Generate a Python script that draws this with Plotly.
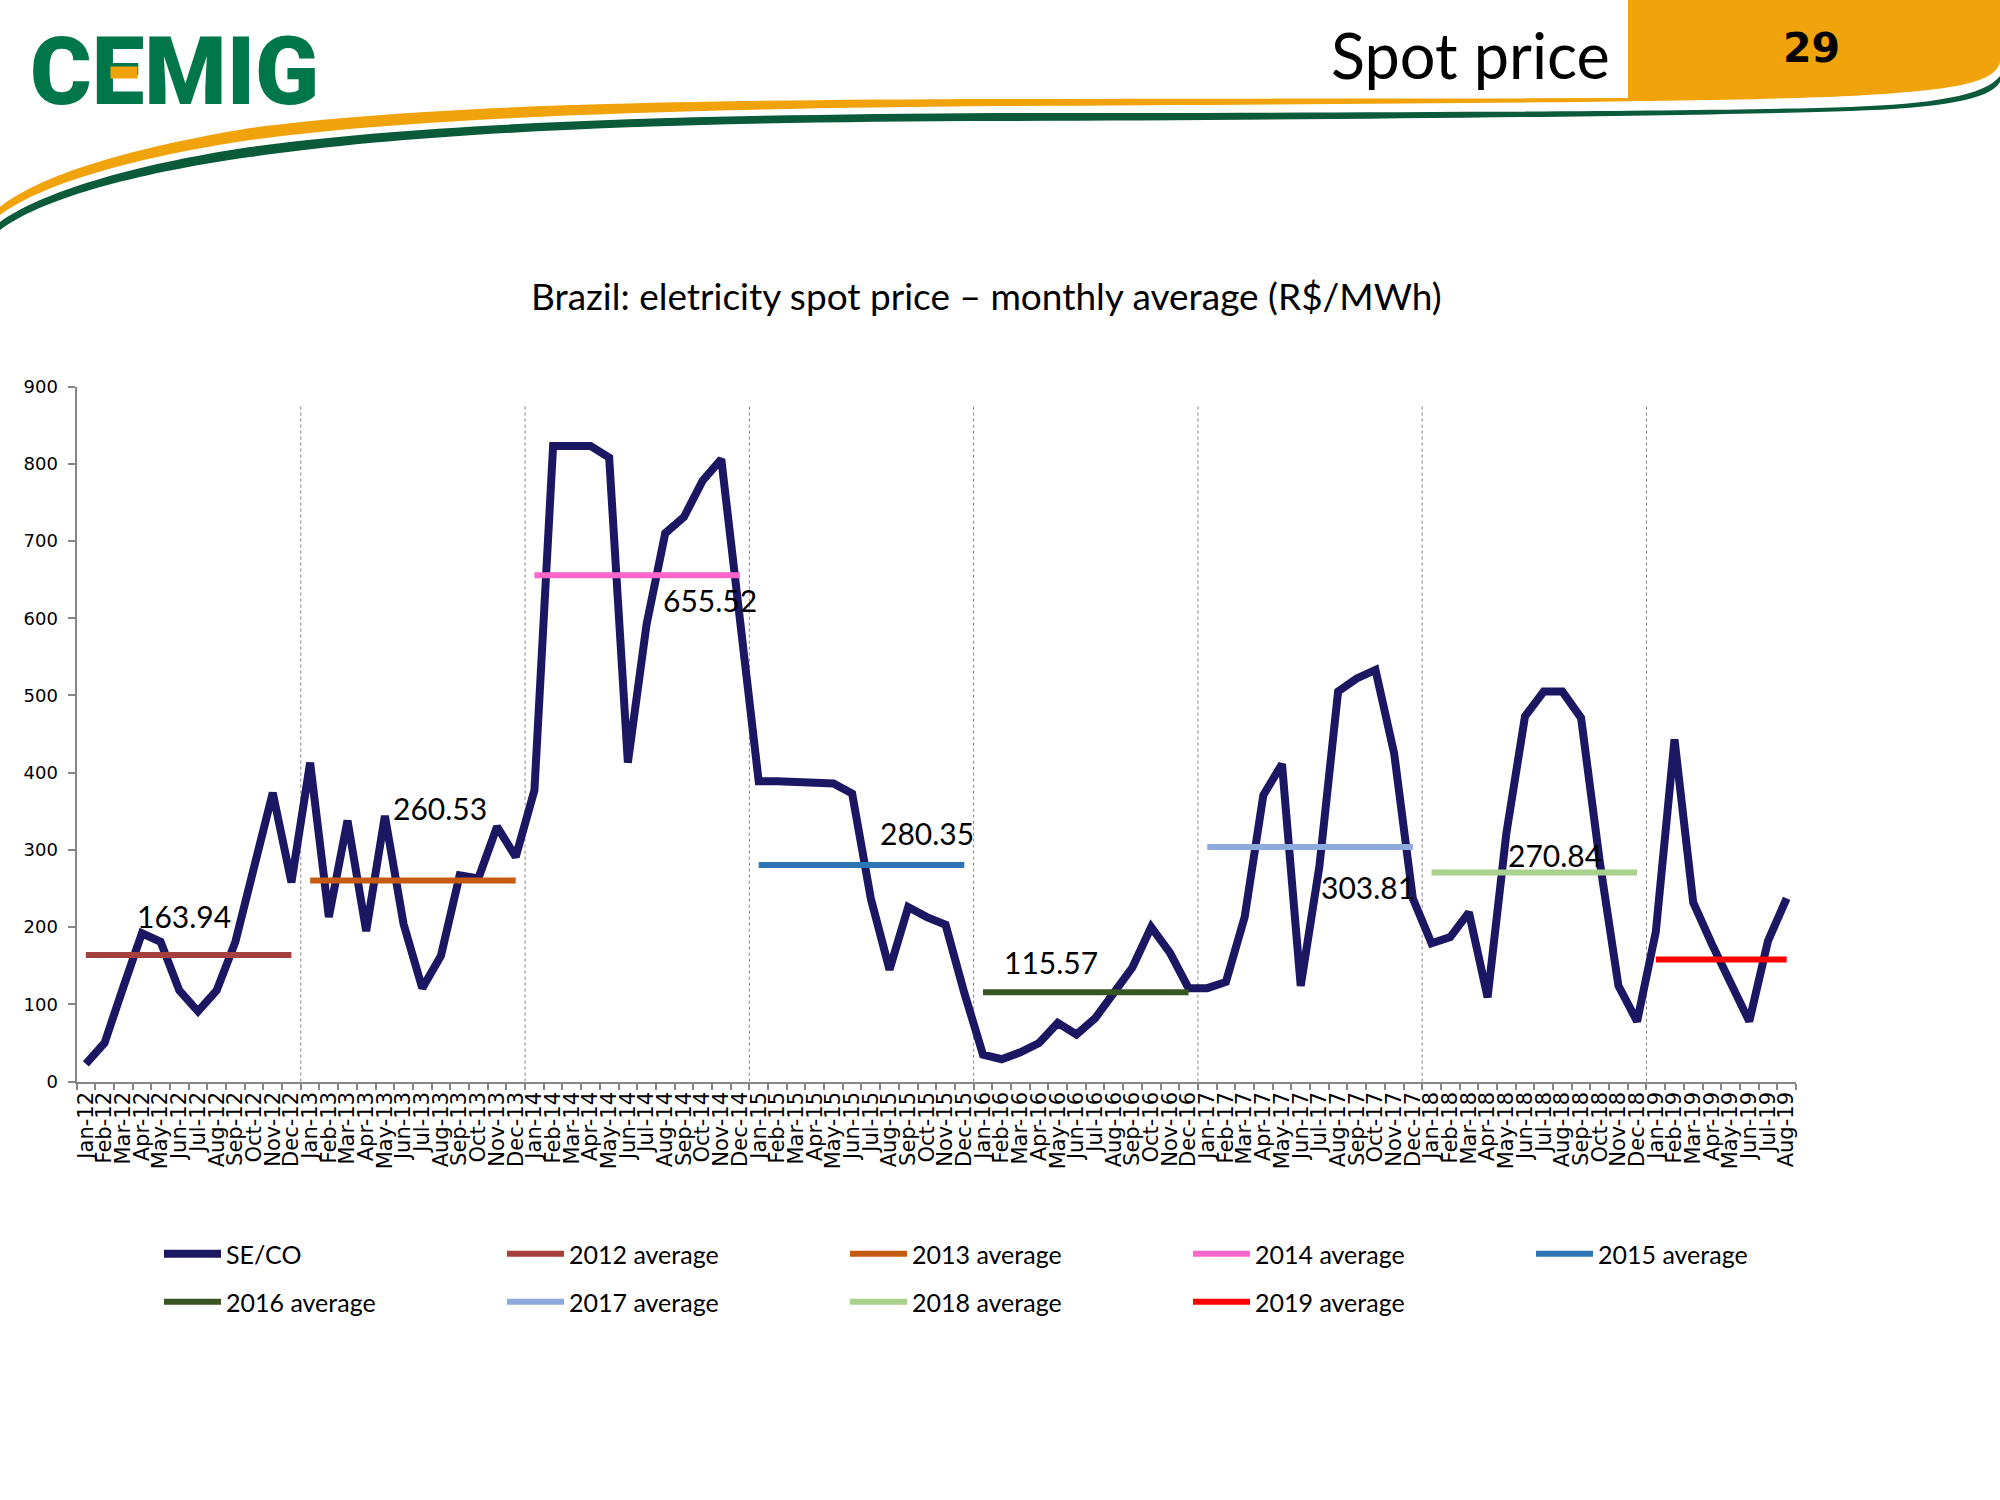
import plotly.graph_objects as go

# ---------------- data ----------------
MONTHS = ["Jan", "Feb", "Mar", "Apr", "May", "Jun", "Jul", "Aug", "Sep", "Oct", "Nov", "Dec"]
YEARS = ["12", "13", "14", "15", "16", "17", "18", "19"]

SECO = [
    # 2012
    23, 50, 122, 192, 181, 118, 91, 118, 181, 279, 374, 258,
    # 2013
    413, 213, 338, 195, 344, 204, 121, 163, 267, 263, 330, 291,
    # 2014
    377, 823, 823, 823, 808, 413, 592, 710, 731, 778, 806, 605,
    # 2015
    389, 389, 388, 388, 386, 373, 237, 145, 226, 213, 203, 115,
    # 2016
    35, 29, 38, 50, 76, 61, 82, 115, 148, 200, 167, 121,
    # 2017
    121, 129, 213, 371, 411, 124, 279, 505, 522, 533, 425, 237,
    # 2018
    179, 187, 219, 109, 321, 473, 505, 505, 471, 285, 124, 78,
    # 2019
    194, 443, 232, 178, 130, 78, 182, 237.29,
]
CATEGORIES = [f"{m}-{y}" for y in YEARS for m in MONTHS][:len(SECO)]

AVG_NAMES = ["2012 average", "2013 average", "2014 average", "2015 average",
             "2016 average", "2017 average", "2018 average", "2019 average"]
AVG_VALUES = [163.94, 260.53, 655.52, 280.35, 115.57, 303.81, 270.84, 158.14]
AVG_COLORS = ["#A5403F", "#C55A11", "#FF66CC", "#2E75B6",
              "#375623", "#8EA9DB", "#A9D18E", "#FF0000"]
SECO_COLOR = "#1B1762"

# label placement (category index, value-axis position)
LABEL_X = [5.25, 18.96, 33.37, 45.0, 51.64, 68.6, 78.6, 93.95]
LABEL_Y = [214, 354, 623, 322, 155, 252.5, 294, 157.5]
LAST_LABEL_POS = (94.4, 236.5)

W, H = 2000, 1500


def px(x, y):
    return x / W, 1 - y / H


def path_from(cmds):
    out = []
    for c in cmds:
        if isinstance(c, str):
            out.append(c)
        else:
            xx, yy = px(*c)
            out.append(f"{xx:.5f},{yy:.5f}")
    return " ".join(out)


fig = go.Figure()

fig.add_trace(go.Scatter(
    x=CATEGORIES, y=SECO, mode="lines", name="SE/CO",
    line=dict(color=SECO_COLOR, width=8), cliponaxis=False, legend="legend",
))

for i, (name, val, col) in enumerate(zip(AVG_NAMES, AVG_VALUES, AVG_COLORS)):
    xs = CATEGORIES[i * 12:(i + 1) * 12]
    fig.add_trace(go.Scatter(
        x=xs, y=[val] * len(xs), mode="lines", name=name,
        line=dict(color=col, width=6), cliponaxis=False,
        legend="legend" if i < 4 else "legend2",
    ))

annotations = []
for i, val in enumerate(AVG_VALUES):
    annotations.append(dict(
        x=LABEL_X[i], y=LABEL_Y[i], xref="x", yref="y", text=f"{val:.2f}",
        showarrow=False, font=dict(family="Lato", size=30, color="black"),
        xanchor="center", yanchor="middle",
    ))
annotations.append(dict(
    x=LAST_LABEL_POS[0], y=LAST_LABEL_POS[1], xref="x", yref="y",
    text=f"{SECO[-1]:.2f}", showarrow=False,
    font=dict(family="Lato", size=30, color="black"),
    xanchor="center", yanchor="middle",
))

# title
tx, ty = px(986, 295)
annotations.append(dict(
    x=tx, y=ty, xref="paper", yref="paper", showarrow=False,
    text="Brazil: eletricity spot price \u2013 monthly average (R$/MWh)",
    font=dict(family="Lato", size=37, color="black"), xanchor="center", yanchor="middle",
))
# header texts
hx, hy = px(1612, 54)
annotations.append(dict(
    x=hx, y=hy, xref="paper", yref="paper", showarrow=False, text="Spot price",
    font=dict(family="Lato", size=63, color="black"), xanchor="right", yanchor="middle",
))
nx, ny = px(1811, 48)
annotations.append(dict(
    x=nx, y=ny, xref="paper", yref="paper", showarrow=False, text="<b>29</b>",
    font=dict(family="DejaVu Sans", size=41, color="black"), xanchor="center", yanchor="middle",
))
lx, ly = px(28, 72)
annotations.append(dict(
    x=lx, y=ly, xref="paper", yref="paper", showarrow=False, text="CEMIG",
    font=dict(family="Roboto", size=94, color="#00774A", weight=900),
    xanchor="left", yanchor="middle",
))
# orange bar on the logo's E (drawn on top of the logo text)
ox, oy = px(124, 73)
annotations.append(dict(
    x=ox, y=oy, xref="paper", yref="paper", showarrow=False, text=" ",
    width=26, height=11, borderpad=0, bgcolor="#F0A30A",
    font=dict(size=4), xanchor="center", yanchor="middle",
))

shapes = []
# year separators
for k in range(1, len(YEARS)):
    xb = CATEGORIES.index(f"Jan-{YEARS[k]}") - 0.5
    shapes.append(dict(type="line", xref="x", yref="y", x0=xb, x1=xb, y0=0, y1=877,
                       line=dict(color="#7F7F7F", width=1, dash="dot"), layer="below"))

# header swoosh
orange_path = path_from([
    "M", (1628, 0), "L", (2000, 0), "L", (2000, 62),
    "C", (1995, 82), (1960, 90), (1850, 96),
    "C", (1700, 103), (1300, 104), (1000, 106),
    "C", (650, 109), (400, 119), (250, 140),
    "C", (130, 158), (40, 185), (0, 215),
    "L", (0, 207),
    "C", (40, 175), (130, 148), (250, 128),
    "C", (420, 106), (650, 100), (1000, 99),
    "L", (1628, 98), "Z",
])
green_path = path_from([
    "M", (2000, 76),
    "C", (1985, 96), (1930, 104), (1850, 107),
    "C", (1700, 112), (1300, 113), (1000, 113),
    "C", (650, 115), (420, 124), (250, 147),
    "C", (130, 165), (40, 193), (0, 222),
    "L", (0, 230),
    "C", (40, 200), (130, 174), (250, 157),
    "C", (420, 133), (650, 122), (1000, 121),
    "C", (1300, 120), (1700, 116), (1850, 111),
    "C", (1940, 108), (1990, 100), (2000, 82), "Z",
])
shapes.append(dict(type="path", xref="paper", yref="paper", path=orange_path,
                   fillcolor="#F0A30A", line=dict(width=0), layer="below"))
shapes.append(dict(type="path", xref="paper", yref="paper", path=green_path,
                   fillcolor="#0B5A3A", line=dict(width=0), layer="below"))

x0d, _ = px(76.5, 0)
x1d, _ = px(1796, 0)
_, y0d = px(0, 1081.6)
_, y1d = px(0, 386.5)

leg_common = dict(
    orientation="h", font=dict(family="Lato", size=25, color="black"),
    itemwidth=57, entrywidth=271, entrywidthmode="pixels",
    bgcolor="rgba(0,0,0,0)", borderwidth=0, xanchor="left", yanchor="middle",
    tracegroupgap=0, itemclick=False, itemdoubleclick=False,
)
l1x, l1y = px(159, 1254)
l2x, l2y = px(159, 1302)

fig.update_layout(
    width=W, height=H,
    margin=dict(l=0, r=0, t=0, b=0, autoexpand=False),
    paper_bgcolor="white", plot_bgcolor="white",
    showlegend=True,
    legend=dict(x=l1x, y=l1y, **leg_common),
    legend2=dict(x=l2x, y=l2y, **leg_common),
    xaxis=dict(
        type="category", domain=[x0d, x1d], range=[-0.5, len(SECO) - 0.5],
        tickmode="linear", dtick=1, tickangle=-90, tickson="boundaries",
        ticks="outside", ticklen=6, tickcolor="#868686", tickwidth=1.5,
        showline=True, linecolor="#868686", linewidth=2,
        tickfont=dict(family="DejaVu Sans", size=21, color="black"),
        showgrid=False, zeroline=False, automargin=False, fixedrange=True,
    ),
    yaxis=dict(
        domain=[y0d, y1d], range=[0, 900], tickmode="linear", tick0=0, dtick=100,
        ticks="outside", ticklen=7, tickcolor="#868686", tickwidth=1.5,
        showline=True, linecolor="#868686", linewidth=2,
        tickfont=dict(family="DejaVu Sans", size=18, color="black"),
        ticklabelstandoff=6,
        showgrid=False, zeroline=False, automargin=False, fixedrange=True,
    ),
    annotations=annotations,
    shapes=shapes,
)

fig.write_html(
    "out.html",
    config={"displayModeBar": False},
    post_script="document.body.style.margin='0px';document.body.style.overflow='hidden';",
)
